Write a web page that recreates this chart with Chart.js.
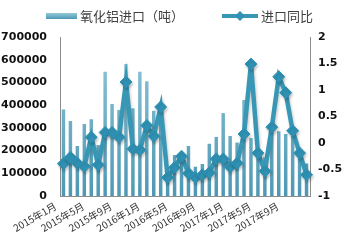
<!DOCTYPE html>
<html>
<head>
<meta charset="utf-8">
<script src="https://cdn.jsdelivr.net/npm/chart.js@4/dist/chart.umd.min.js"></script>
<style>
  html, body { margin: 0; padding: 0; background: #fff; }
  #chart { display: block; }
</style>
</head>
<body>
<canvas id="chart" width="345" height="250"></canvas>
<script>
// 月份（类别）
const months = [
  '2015年1月','2015年2月','2015年3月','2015年4月','2015年5月','2015年6月',
  '2015年7月','2015年8月','2015年9月','2015年10月','2015年11月','2015年12月',
  '2016年1月','2016年2月','2016年3月','2016年4月','2016年5月','2016年6月',
  '2016年7月','2016年8月','2016年9月','2016年10月','2016年11月','2016年12月',
  '2017年1月','2017年2月','2017年3月','2017年4月','2017年5月','2017年6月',
  '2017年7月','2017年8月','2017年9月','2017年10月','2017年11月','2017年12月'
];

// 氧化铝进口（吨）
const imports = [
  381000, 330000, 220000, 317000, 338000, 224000,
  547000, 405000, 379000, 581000, 386000, 547000,
  505000, 375000, 400000, 120000, 180000, 150000,
  220000, 129000, 141000, 230000, 260000, 365000,
  264000, 235000, 423000, 255000, 210000, 170000,
  290000, 285000, 273000, 265000, 200000, 143000
];

// 进口同比
const yoy = [
  -0.39, -0.27, -0.38, -0.44, 0.11, -0.41,
  0.20, 0.20, 0.11, 1.15, -0.11, -0.13,
  0.33, 0.13, 0.68, -0.65, -0.46, -0.25,
  -0.57, -0.65, -0.60, -0.56, -0.30, -0.30,
  -0.45, -0.38, 0.17, 1.49, -0.19, -0.53,
  0.30, 1.25, 0.95, 0.23, -0.19, -0.60
];

const leftTicks = [0, 100000, 200000, 300000, 400000, 500000, 600000, 700000];
const rightTicks = [-1, -0.5, 0, 0.5, 1, 1.5, 2];

const BAR_TOP = '#93c9da';
const BAR_BOTTOM = '#4e98b4';
const LINE_COLOR = '#3797b5';
const POINT_COLOR = '#2f92b4';
const AXIS_COLOR = '#8c8c8c';
const TICK_FONT = { family: '"DejaVu Sans", Verdana, sans-serif', size: 11, weight: 'bold' };
const CJK = '"Noto Sans CJK SC", "Noto Sans", sans-serif';

function barGradient(ctx) {
  const area = ctx.chart.chartArea;
  if (!area) return BAR_BOTTOM;
  const g = ctx.chart.ctx.createLinearGradient(0, area.top, 0, area.bottom);
  g.addColorStop(0, BAR_TOP);
  g.addColorStop(1, BAR_BOTTOM);
  return g;
}

// 线条阴影
const lineShadow = {
  id: 'lineShadow',
  beforeDatasetDraw(chart, args) {
    if (args.meta.type !== 'line') return;
    const c = chart.ctx;
    c.save();
    c.shadowColor = 'rgba(0,0,0,0.22)';
    c.shadowBlur = 3;
    c.shadowOffsetX = 1;
    c.shadowOffsetY = 2;
  },
  afterDatasetDraw(chart, args) {
    if (args.meta.type !== 'line') return;
    chart.ctx.restore();
  }
};

// 图例（Excel 风格）
const topLegend = {
  id: 'topLegend',
  afterDraw(chart) {
    const c = chart.ctx;
    const y = 16;
    c.save();
    c.font = '13px ' + CJK;
    c.textBaseline = 'middle';

    const g = c.createLinearGradient(0, y - 3, 0, y + 3);
    g.addColorStop(0, BAR_TOP);
    g.addColorStop(1, BAR_BOTTOM);
    c.fillStyle = g;
    c.fillRect(46, y - 3, 31, 6);
    c.fillStyle = '#404040';
    c.fillText(chart.data.datasets[0].label, 80, y);

    c.strokeStyle = LINE_COLOR;
    c.lineWidth = 4;
    c.beginPath();
    c.moveTo(222, y);
    c.lineTo(258, y);
    c.stroke();
    c.fillStyle = POINT_COLOR;
    c.beginPath();
    c.moveTo(240, y - 5);
    c.lineTo(245, y);
    c.lineTo(240, y + 5);
    c.lineTo(235, y);
    c.closePath();
    c.fill();
    c.fillStyle = '#404040';
    c.fillText(chart.data.datasets[1].label, 261, y);
    c.restore();
  }
};

new Chart(document.getElementById('chart'), {
  data: {
    labels: months,
    datasets: [
      {
        type: 'bar',
        label: '氧化铝进口（吨）',
        data: imports,
        yAxisID: 'y',
        order: 1,
        backgroundColor: barGradient,
        borderWidth: 0,
        barPercentage: 0.5,
        categoryPercentage: 1.0
      },
      {
        type: 'line',
        label: '进口同比',
        data: yoy,
        yAxisID: 'y1',
        order: 0,
        borderColor: LINE_COLOR,
        borderWidth: 4.5,
        tension: 0,
        pointStyle: 'rectRot',
        pointRadius: 6,
        pointBackgroundColor: POINT_COLOR,
        pointBorderColor: POINT_COLOR,
        pointBorderWidth: 1
      }
    ]
  },
  options: {
    responsive: false,
    animation: false,
    layout: { padding: { top: 37, left: 0, right: 0, bottom: 0 } },
    plugins: {
      legend: { display: false },
      tooltip: { enabled: false }
    },
    scales: {
      x: {
        grid: { display: false, drawTicks: false },
        border: { display: true, color: AXIS_COLOR, width: 1 },
        afterFit: s => { s.height = 54; },
        ticks: {
          autoSkip: false,
          maxRotation: 30,
          minRotation: 30,
          padding: 4,
          labelOffset: -8,
          color: '#333',
          font: { family: CJK, size: 10 },
          callback: (v, i) => (i % 4 === 0 ? months[i] : '')
        }
      },
      y: {
        position: 'left',
        min: 0,
        max: 700000,
        afterFit: s => { s.width = 60; },
        afterBuildTicks: s => { s.ticks = leftTicks.map(v => ({ value: v })); },
        grid: { display: false, drawTicks: false },
        border: { display: true, color: AXIS_COLOR, width: 1 },
        ticks: { color: '#111', font: TICK_FONT, padding: 13, callback: v => String(v) }
      },
      y1: {
        position: 'right',
        min: -1,
        max: 2,
        afterFit: s => { s.width = 35; },
        afterBuildTicks: s => { s.ticks = rightTicks.map(v => ({ value: v })); },
        grid: { display: false, drawTicks: false },
        border: { display: true, color: AXIS_COLOR, width: 1 },
        ticks: { color: '#111', font: TICK_FONT, padding: 8, callback: v => String(v) }
      }
    }
  },
  plugins: [lineShadow, topLegend]
});
</script>
</body>
</html>
